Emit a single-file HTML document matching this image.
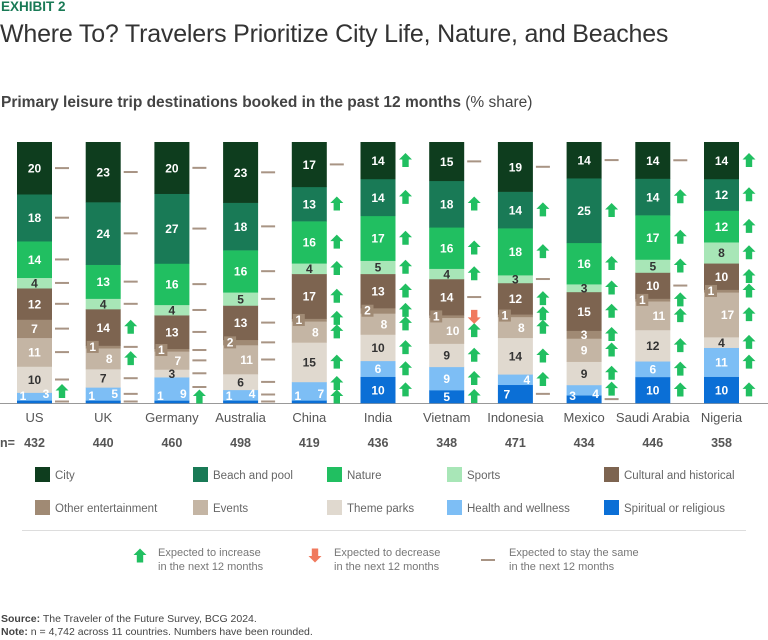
<!DOCTYPE html>
<html><head><meta charset="utf-8"><style>
body{margin:0;background:#fff;font-family:"Liberation Sans",sans-serif;}
#wrap{position:relative;width:768px;height:640px;overflow:hidden;}
.t{position:absolute;white-space:nowrap;}
</style></head><body>
<div id="wrap">
<div class="t" style="left:1px;top:-1px;font-size:13.5px;font-weight:bold;color:#197a56">EXHIBIT 2</div>
<div class="t" style="left:0px;top:20px;font-size:25px;color:#333;font-weight:300;letter-spacing:-0.2px">Where To? Travelers Prioritize City Life, Nature, and Beaches</div>
<div class="t" style="left:1px;top:94px;font-size:15.5px;font-weight:bold;color:#444">Primary leisure trip destinations booked in the past 12 months <span style="font-weight:normal">(% share)</span></div>
<svg id="chart" width="768" height="640" style="position:absolute;left:0;top:0"></svg>
<div class="t" style="left:1px;top:613px;font-size:10.5px;color:#444"><b>Source:</b> The Traveler of the Future Survey, BCG 2024.</div>
<div class="t" style="left:1px;top:626px;font-size:10.5px;color:#444"><b>Note:</b> n = 4,742 across 11 countries. Numbers have been rounded.</div>
</div>
<script>
const countries=["US","UK","Germany","Australia","China","India","Vietnam","Indonesia","Mexico","Saudi Arabia","Nigeria"];
const sampleSizes=[432,440,460,498,419,436,348,471,434,446,358];
const categories=["Spiritual or religious","Health and wellness","Theme parks","Events","Other entertainment","Cultural and historical","Sports","Nature","Beach and pool","City"];
// values per country, bottom to top (same order as categories)
const spiritual=[1,1,1,1,1,10,5,7,3,10,10];
const health=[3,5,9,4,7,6,9,4,4,6,11];
const themeParks=[10,7,3,6,15,10,9,14,9,12,4];
const events=[11,8,7,11,8,8,10,8,9,11,17];
const otherEnt=[7,1,1,2,1,2,1,1,3,1,1];
const cultural=[12,14,13,13,17,13,14,12,15,10,10];
const sports=[4,4,4,5,4,5,4,3,3,5,8];
const nature=[14,13,16,16,16,17,16,18,16,17,12];
const beach=[18,24,27,18,13,14,18,14,25,14,12];
const city=[20,23,20,23,17,14,15,19,14,14,14];
// outlook per country, bottom to top: u=increase, d=decrease, s=same
const outl=["sussssssss","sssusussss","usssssssss","ssssssssss","uuuuuuuuus","uuuuuuuuuu","uuuudsuuus","suuuuusuus","suuuuuuuus","uuuuusuuus","uuuuuuuuuu"];
const colors=["#0b6fd6","#7dbef5","#e0d9cf","#c4b5a4","#a08a74","#7d6450","#a8e6b7","#21bf61","#197a56","#0e3d1e"];
const txtCol=["#fff","#fff","#333","#fff","#fff","#fff","#333","#fff","#fff","#fff"];
const series=[spiritual,health,themeParks,events,otherEnt,cultural,sports,nature,beach,city];
const svg=document.getElementById('chart');const NS="http://www.w3.org/2000/svg";
function mk(t,a,p){const e=document.createElementNS(NS,t);for(const k in a)e.setAttribute(k,a[k]);(p||svg).appendChild(e);return e;}
const X0=17,STEP=68.7,BW=35,TOP=142,BOT=403,H=BOT-TOP;
const xBar=i=>X0+i*STEP;
const yScale=(v,tot)=>v/tot*H;
mk('line',{x1:0,x2:768,y1:BOT+0.5,y2:BOT+0.5,stroke:'#999','stroke-width':1});
function upArrow(cx,cy,g){const p=mk('path',{d:`M${cx} ${cy-7.5}L${cx+6.5} ${cy-1}L${cx+3.2} ${cy-1}L${cx+3.2} ${cy+6.5}L${cx-3.2} ${cy+6.5}L${cx-3.2} ${cy-1}L${cx-6.5} ${cy-1}Z`,fill:'#21bf61'},g);}
function downArrow(cx,cy,g){const p=mk('path',{d:`M${cx} ${cy+7.5}L${cx+6.5} ${cy+1}L${cx+3.2} ${cy+1}L${cx+3.2} ${cy-6.5}L${cx-3.2} ${cy-6.5}L${cx-3.2} ${cy+1}L${cx-6.5} ${cy+1}Z`,fill:'#f07a5e'},g);}
function dash(cx,cy,g){const p=mk('rect',{x:cx-7,y:cy-1,width:14,height:2,fill:'#a89484'},g);}
countries.forEach((c,i)=>{
 const g=mk('g',{});
 const vals=series.map(s=>s[i]);const tot=vals.reduce((a,b)=>a+b,0);
 let y=BOT;const x=xBar(i);const centers=[];const segs=[];
 vals.forEach((v,k)=>{const h=yScale(v,tot);y-=h;
  const r=mk('rect',{x:x,y:y,width:BW,height:h+0.3,fill:colors[k]},g);
  
  segs.push([y,h]);centers.push(y+h/2);});
 vals.forEach((v,k)=>{const [sy,sh]=segs[k];let tx=x+BW/2,ty=sy+sh/2+4.5,anchor='middle';
  if(k===0&&v<=3){tx=x+6;ty=BOT-3;}
  if(k===0&&v>3&&health[i]<=5){tx=x+9;}
  if(k===1&&(spiritual[i]<=3||v<=5)){tx=x+BW-6;ty=segs[1][0]+segs[1][1]/2+4.5;if(spiritual[i]<=3)ty=BOT-5;}
  if(k===4&&v<=2){tx=x+7;ty=sy+sh/2+4;mk('rect',{x:x+1,y:sy+sh/2-6,width:12,height:12,fill:'#a08a74'},g);}
  if(k===3&&otherEnt[i]<=2){tx=x+BW/2+6;}
  const t=mk('text',{x:tx,y:ty,'text-anchor':anchor,'font-size':12,'font-weight':'bold',fill:txtCol[k],'font-family':'Liberation Sans, sans-serif'},g);
  t.textContent=v;});
 const types=outl[i];
 let pos=centers.slice();pos[0]=Math.min(pos[0],types[0]==='s'?BOT-1.5:BOT-6);
 for(let k=1;k<pos.length;k++){
  const a=types[k-1]!=='s',b=types[k]!=='s';
  const gap=(a&&b)?13.5:(a||b)?10:7;
  if(pos[k-1]-pos[k]<gap)pos[k]=pos[k-1]-gap;}
 const mx=x+BW+10;
 for(let k=0;k<10;k++){const o=types[k];if(o==='u')upArrow(mx,pos[k],g);else if(o==='d')downArrow(mx,pos[k],g);else dash(mx,pos[k],g);}
 const cl=mk('text',{x:x+BW/2,y:422,'text-anchor':'middle','font-size':13,fill:'#555'});cl.textContent=c;
 const nl=mk('text',{x:x+BW/2,y:447,'text-anchor':'middle','font-size':12.5,'font-weight':'bold',fill:'#555'});nl.textContent=sampleSizes[i];
});
const nlab=mk('text',{x:0,y:447,'font-size':12.5,'font-weight':'bold',fill:'#555'});nlab.textContent='n=';

const legOrder=[9,8,7,6,5,4,3,2,1,0];const lx=[35,193,327,447,604];
legOrder.forEach((k,j)=>{const col=j%5,row=Math.floor(j/5);const x=lx[col],y=467+row*33;
 const g=mk('g',{});
 mk('rect',{x:x,y:y,width:15,height:15,fill:colors[k]},g);
 const t=mk('text',{x:x+20,y:y+12,'font-size':11.5,fill:'#666'},g);t.textContent=categories[k];});
mk('line',{x1:22,x2:746,y1:530.5,y2:530.5,stroke:'#ddd'});
upArrow(140,556,svg);downArrow(315,555,svg);dash(488,560,svg);
[[158,"Expected to increase","in the next 12 months"],[334,"Expected to decrease","in the next 12 months"],[509,"Expected to stay the same","in the next 12 months"]].forEach(([x,a,b])=>{
 const t=mk('text',{x:x,y:556,'font-size':11,fill:'#777'});t.textContent=a;
 const t2=mk('text',{x:x,y:570,'font-size':11,fill:'#777'});t2.textContent=b;});
</script>
</body></html>
